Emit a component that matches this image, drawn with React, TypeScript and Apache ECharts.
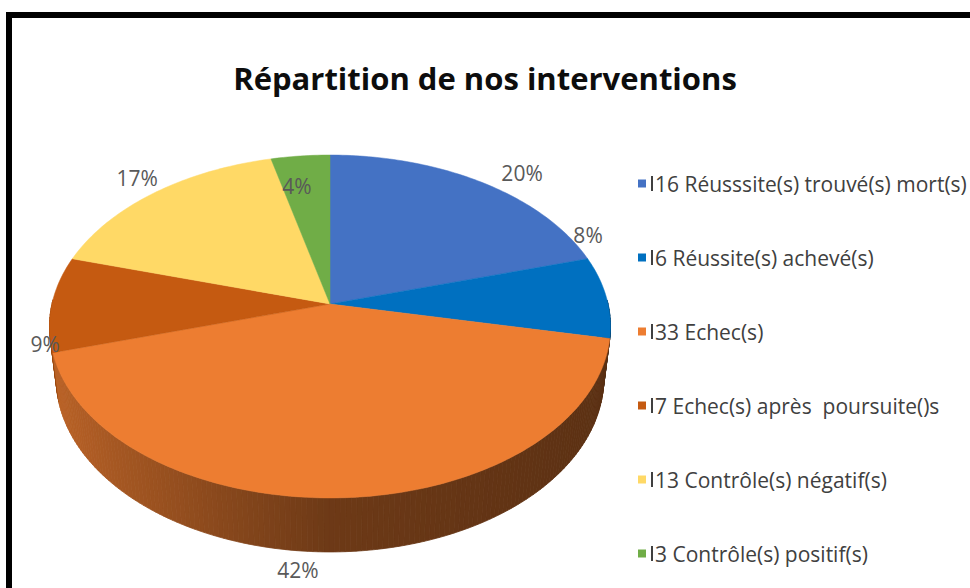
import React, { useEffect, useRef } from "react";
import * as echarts from "echarts";

// ---- data ----
const CATEGORIES = [
  "16 Réusssite(s) trouvé(s) mort(s)",
  "6 Réussite(s) achevé(s)",
  "33 Echec(s)",
  "7 Echec(s) après  poursuite()s",
  "13 Contrôle(s) négatif(s)",
  "3 Contrôle(s) positif(s)",
];
const VALUES = [16, 6, 33, 7, 13, 3];
const TITLE = "Répartition de nos interventions";

// ---- style ----
const COLORS = ["#4472C4", "#0070C0", "#ED7D31", "#C55A11", "#FFD966", "#70AD47"];
const FONT = "'Open Sans', 'Noto Sans', sans-serif";
// label placement (radius factor, angle shift in degrees) – Excel "best fit" imitation
const LABEL_RADIUS = [1.158, 1.072, 1.311, 1.02, 1.131, 0.782];
const LABEL_SHIFT = [-4.7, 21.5, -6.5, 13, -1, 2.7];

// 3D projection parameters
const CX = 330;
const CY = 304;
const FOCAL = 1685;
const DIST = 6.06;
const COS_T = 0.795;
const SIN_T = 0.606;
const THICK = 0.239;

function proj(r: number, deg: number, y: number): number[] {
  const p = (deg * Math.PI) / 180;
  const X = r * Math.cos(p);
  const Z = r * Math.sin(p);
  const d = DIST + Z * COS_T - y * SIN_T;
  const yc = Z * SIN_T + y * COS_T;
  return [CX + (FOCAL * X) / d, CY - (FOCAL * yc) / d];
}

function shade(hex: string, k: number): string {
  const n = parseInt(hex.slice(1), 16);
  const r = Math.round(((n >> 16) & 255) * k);
  const g = Math.round(((n >> 8) & 255) * k);
  const b = Math.round((n & 255) * k);
  return `rgb(${r},${g},${b})`;
}

function percents(vals: number[]): number[] {
  const total = vals.reduce((a, b) => a + b, 0);
  const raw = vals.map((v) => (v / total) * 100);
  const fl = raw.map((v) => Math.floor(v));
  let rest = 100 - fl.reduce((a, b) => a + b, 0);
  const order = raw.map((v, i) => [v - Math.floor(v), i]).sort((a, b) => b[0] - a[0]);
  for (let k = 0; k < order.length && rest > 0; k++, rest--) fl[order[k][1]] += 1;
  return fl;
}

const TOTAL = VALUES.reduce((a, b) => a + b, 0);
const PCTS = percents(VALUES);

function renderSlice(i: number, api: any) {
  let before = 0;
  for (let k = 0; k < i; k++) before += VALUES[k];
  const a0 = 90 - (360 * before) / TOTAL;
  const a1 = 90 - (360 * (before + api.value(0))) / TOTAL;
  const steps = Math.max(2, Math.ceil((a0 - a1) / 1));
  const children: any[] = [];
  const base = COLORS[i];

  // outer walls (near half only)
  for (let s = 0; s < steps; s++) {
    const p = a0 - ((a0 - a1) * s) / steps;
    const q = a0 - ((a0 - a1) * (s + 1)) / steps;
    const mid = (((p + q) / 2) * Math.PI) / 180;
    const sn = Math.sin(mid);
    if (sn > 0.02) continue;
    const cs = Math.cos(mid);
    const k = cs < 0 ? 0.46 - 0.34 * cs : 0.46 - 0.08 * cs;
    const col = shade(base, k);
    children.push({
      type: "polygon",
      z2: Math.round(-sn * 500) + 10,
      shape: { points: [proj(1, p, 0), proj(1, q, 0), proj(1, q, -THICK), proj(1, p, -THICK)] },
      style: { fill: col, stroke: col, lineWidth: 0.8 },
    });
  }

  // top face
  const pts: number[][] = [proj(0, 0, 0)];
  for (let s = 0; s <= steps; s++) pts.push(proj(1, a0 - ((a0 - a1) * s) / steps, 0));
  children.push({
    type: "polygon",
    z2: 1000,
    shape: { points: pts },
    style: { fill: base, stroke: base, lineWidth: 0.5 },
  });

  // percentage label
  const midA = (a0 + a1) / 2 + LABEL_SHIFT[i];
  const lp = proj(LABEL_RADIUS[i], midA, 0);
  children.push({
    type: "text",
    z2: 1100,
    x: lp[0],
    y: lp[1],
    style: {
      text: PCTS[i] + "%",
      fill: "#595959",
      fontSize: 21,
      fontFamily: FONT,
      align: "center",
      verticalAlign: "middle",
    },
  });
  return { type: "group", children };
}

export default function App() {
  const ref = useRef<HTMLDivElement>(null);
  useEffect(() => {
    document.body.style.margin = "0";
    const chart = echarts.init(ref.current!, null, { renderer: "svg" });
    chart.setOption({
      animation: false,
      backgroundColor: "#ffffff",
      title: {
        text: TITLE,
        left: "center",
        top: 57,
        textStyle: { fontSize: 31, fontWeight: "bold", color: "#0d0d0d", fontFamily: FONT },
      },
      legend: {
        orient: "vertical",
        left: 633,
        top: 168,
        itemWidth: 8,
        itemHeight: 8,
        itemGap: 53,
        icon: "rect",
        selectedMode: false,
        data: CATEGORIES,
        formatter: (name: string) => `{bar| }{t|${name}}`,
        textStyle: {
          fontFamily: FONT,
          fontSize: 21,
          color: "#404040",
          rich: {
            bar: { width: 2, height: 15, backgroundColor: "#404040" },
            t: { fontFamily: FONT, fontSize: 21, color: "#404040", padding: [0, 0, 0, 2], lineHeight: 22 },
          },
        },
      },
      graphic: [
        {
          type: "rect",
          shape: { x: 9, y: 15, width: 2000, height: 2000 },
          style: { fill: "none", stroke: "#000", lineWidth: 6 },
          z: 100,
        },
      ],
      series: CATEGORIES.map((name, i) => ({
        type: "custom",
        name,
        coordinateSystem: "none",
        silent: true,
        itemStyle: { color: COLORS[i] },
        data: [VALUES[i]],
        renderItem: (_params: any, api: any) => renderSlice(i, api),
      })),
    });
    return () => chart.dispose();
  }, []);
  return <div ref={ref} style={{ width: 970, height: 588 }} />;
}
